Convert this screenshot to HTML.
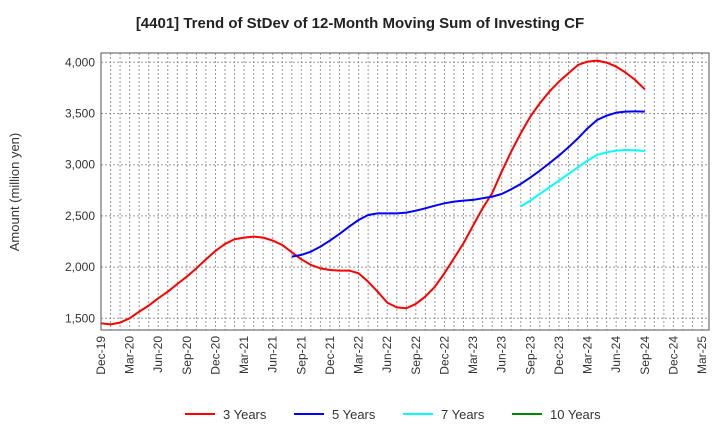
<!DOCTYPE html>
<html><head><meta charset="utf-8"><style>
body{margin:0;background:#fff;font-family:"Liberation Sans",sans-serif}
</style></head><body>
<svg width="720" height="440" xmlns="http://www.w3.org/2000/svg" font-family="Liberation Sans, sans-serif">
<text x="360" y="28" text-anchor="middle" font-size="15" font-weight="bold" fill="#222">[4401]  Trend of StDev of 12-Month Moving Sum of Investing CF</text>
<text transform="translate(19,192) rotate(-90)" text-anchor="middle" font-size="13" fill="#333">Amount (million yen)</text>
<g id="grid"></g><g id="series"></g><g id="axes"></g>
<g font-size="13" fill="#333">
<line x1="185" y1="414" x2="215" y2="414" stroke="#f00" stroke-width="2"/><text x="223" y="419">3 Years</text>
<line x1="294" y1="414" x2="324" y2="414" stroke="#00f" stroke-width="2"/><text x="332" y="419">5 Years</text>
<line x1="403" y1="414" x2="433" y2="414" stroke="#0ff" stroke-width="2"/><text x="441" y="419">7 Years</text>
<line x1="512" y1="414" x2="542" y2="414" stroke="#080" stroke-width="2"/><text x="550" y="419">10 Years</text>
</g>
</svg>
<script>
const xLabels=["Dec-19","Mar-20","Jun-20","Sep-20","Dec-20","Mar-21","Jun-21","Sep-21","Dec-21","Mar-22","Jun-22","Sep-22","Dec-22","Mar-23","Jun-23","Sep-23","Dec-23","Mar-24","Jun-24","Sep-24","Dec-24","Mar-25"];
const yTicks=[1500,2000,2500,3000,3500,4000];
const s3Start=0;
const s3=[1451,1441,1458,1500,1565,1624,1695,1760,1835,1907,1988,2076,2158,2226,2272,2288,2298,2288,2259,2216,2145,2076,2021,1988,1972,1966,1966,1940,1858,1760,1653,1607,1598,1640,1712,1809,1940,2086,2233,2405,2574,2721,2932,3128,3307,3469,3600,3714,3811,3893,3974,4007,4016,3997,3958,3899,3827,3736];
const s5Start=20;
const s5=[2102,2119,2151,2200,2259,2324,2395,2460,2509,2525,2525,2525,2532,2551,2574,2600,2623,2639,2649,2656,2672,2688,2714,2760,2812,2874,2942,3014,3089,3170,3258,3355,3437,3479,3508,3518,3521,3518];
const s7Start=44;
const s7=[2591,2649,2714,2779,2844,2910,2975,3040,3095,3121,3137,3144,3141,3134];
const s10=[];
const L=101,R=709,T=53,B=330,X0=101,MX=9.54;
const x=i=>X0+i*MX;
const y=v=>318.3-(v-1500)*0.1024;
const NS="http://www.w3.org/2000/svg";
function mk(t,a,p){const e=document.createElementNS(NS,t);for(const k in a)e.setAttribute(k,a[k]);p.appendChild(e);return e;}
const g=document.getElementById('grid'),ax=document.getElementById('axes'),sr=document.getElementById('series');
for(let i=0;i<=63;i++){const l=mk('line',{x1:x(i),x2:x(i),y1:T,y2:B,stroke:'#999','stroke-dasharray':'2,2','stroke-width':1},g);

}
yTicks.forEach(v=>{const l=mk('line',{x1:L,x2:R,y1:y(v),y2:y(v),stroke:'#999','stroke-dasharray':'2,2'},g);


const t=mk('text',{x:L-6,y:y(v)+4,'text-anchor':'end','font-size':12,fill:'#333'},ax);t.textContent=v.toLocaleString('en-US');

});
xLabels.forEach((s,i)=>{const xx=x(i*3);const t=mk('text',{transform:`translate(${xx+4},${B+6}) rotate(-90)`,'text-anchor':'end','font-size':12,fill:'#333'},ax);t.textContent=s;

});
const fr=mk('rect',{x:L,y:T,width:R-L,height:B-T,fill:'none',stroke:'#555','stroke-width':1},ax);


function line(d,st,c,n){if(!d.length)return;const p=mk('polyline',{points:d.map((v,i)=>x(st+i)+','+y(v)).join(' '),fill:'none',stroke:c,'stroke-width':2,'stroke-linejoin':'round'},sr);

}
line(s3,s3Start,'#f00','series-3-years');
line(s5,s5Start,'#00f','series-5-years');
line(s7,s7Start,'#0ff','series-7-years');
line(s10,0,'#080','series-10-years');
</script>
</body></html>
